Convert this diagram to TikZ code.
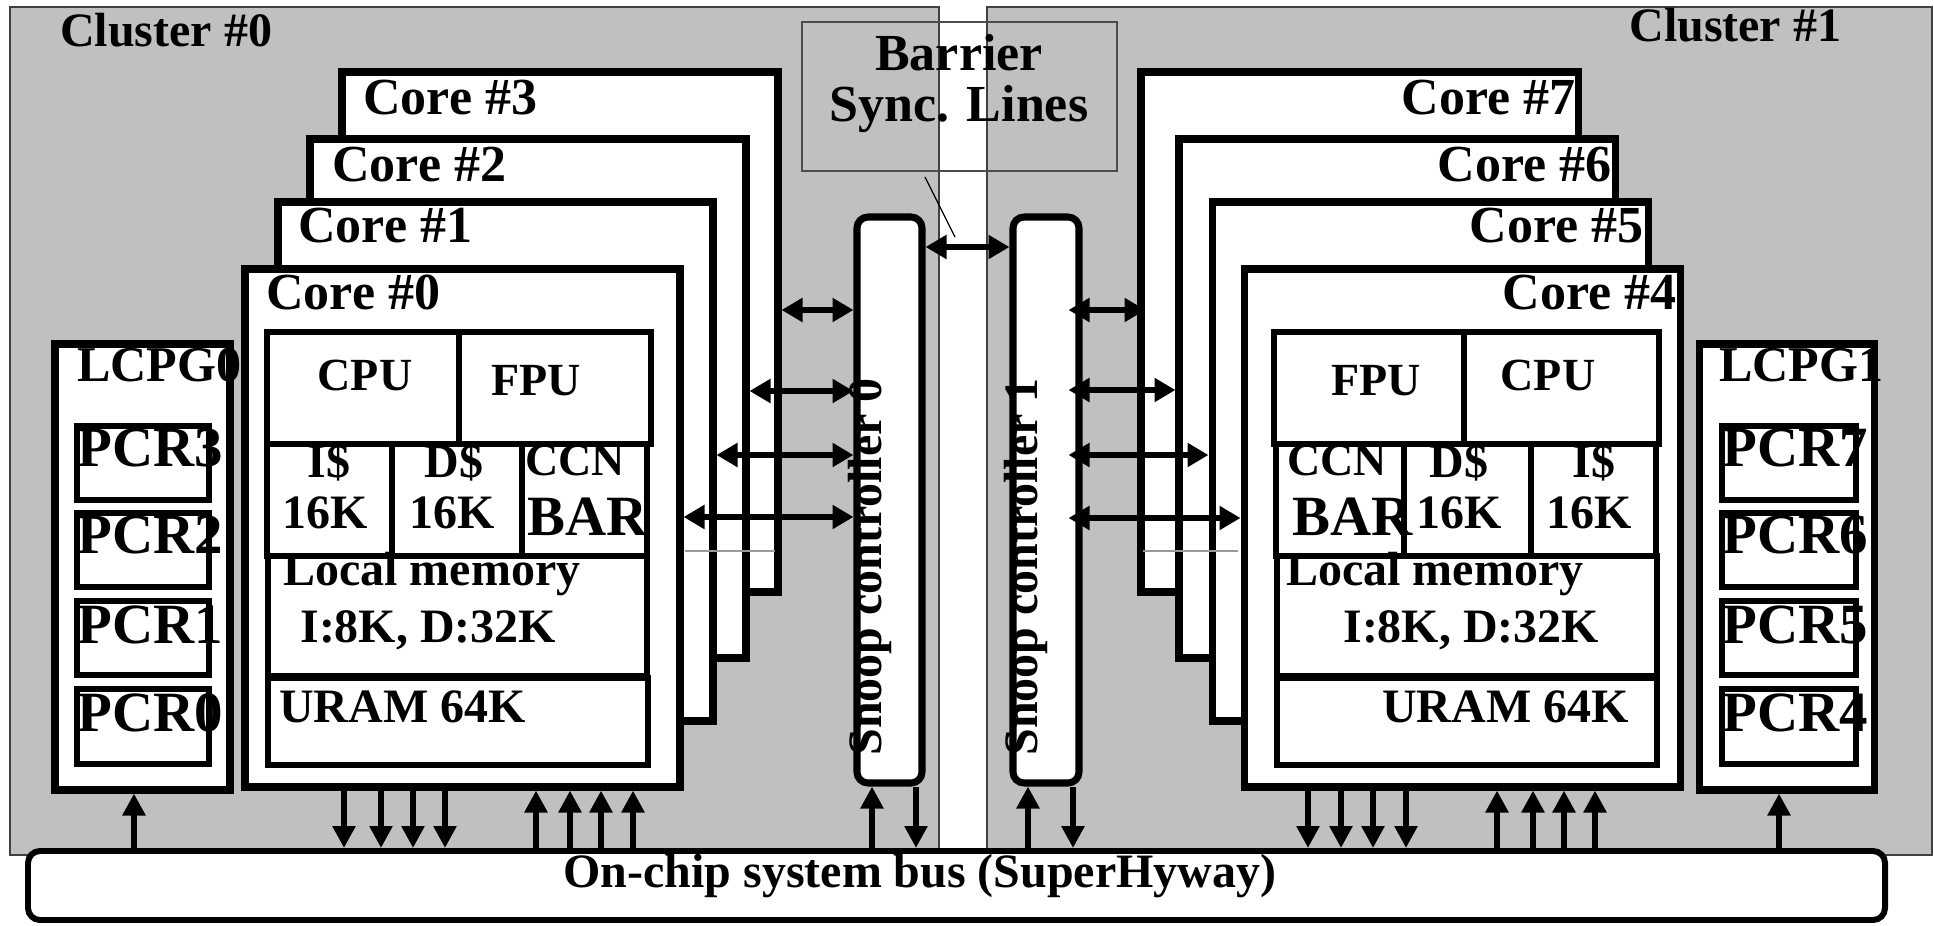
\documentclass[tikz,border=0pt]{standalone}
\usepackage{fontspec}
\setmainfont{Liberation Serif}
\usetikzlibrary{arrows.meta,fit}
\definecolor{clustergray}{RGB}{192,192,192}
\tikzset{
	clusterbox/.style={fill=clustergray, draw=black!75, line width=0.85pt},
	thinline/.style={draw=black!70, line width=0.85pt},
	corebox/.style={draw=black, fill=white, line width=4pt, inner sep=0pt},
	snoopbox/.style={draw=black, fill=white, line width=4pt, inner sep=0pt, rounded corners=0.22cm},
	busbox/.style={draw=black, fill=white, line width=3.4pt, inner sep=0pt, rounded corners=0.24cm},
	blockline/.style={line width=2.9pt},
	dblarrow/.style={line width=3.7pt, {Triangle[length=0.42cm, width=0.46cm]}-{Triangle[length=0.42cm, width=0.46cm]}},
	busarrow/.style={line width=3.7pt, -{Triangle[length=0.44cm, width=0.44cm]}},
	txt/.style={inner sep=0pt, font=\fontsize{27.3pt}{30pt}\selectfont\bfseries},
	txtunit/.style={inner sep=0pt, font=\fontsize{26.2pt}{29pt}\selectfont\bfseries},
	txtcore/.style={inner sep=0pt, font=\fontsize{29.6pt}{32pt}\selectfont\bfseries},
	txtlcpg/.style={inner sep=0pt, font=\fontsize{28.5pt}{31pt}\selectfont\bfseries},
	txtpcr/.style={inner sep=0pt, font=\fontsize{32.4pt}{35pt}\selectfont\bfseries}
}

\begin{document}
\begin{tikzpicture}[x=0.02cm, y=-0.02cm]
			%%%%% START %%%%%
			\useasboundingbox (0, 0) rectangle (1934, 926);
			
			% two clusters
			\draw[clusterbox] (10, 7) rectangle (939, 855);
			\draw[clusterbox] (987, 7) rectangle (1932, 855);
			\node[txt, anchor=base west] (cluster0label) at (60, 47) {Cluster \#0};
			\node[txt, anchor=base west] (cluster1label) at (1629, 42) {Cluster \#1};
			
			% barrier lines
			\draw[thinline] (802, 22) rectangle (1117, 171);
			\node[txtcore, anchor=base] (barrierA) at (959, 71) {Barrier};
			\node[txtcore, anchor=base] (barrierB) at (959, 122) {Sync. Lines};
			\draw[line width=0.7pt] (925, 177) -- (955, 237);
			
			% cores of cluster 0
			\node[corebox, fit={(342, 72) (778, 592)}] (core3) {};
			\node[txtcore, anchor=base west] (core3label) at (363, 114) {Core \#3};
			\node[corebox, fit={(310, 139) (746, 658)}] (core2) {};
			\node[txtcore, anchor=base west] (core2label) at (332, 181) {Core \#2};
			\node[corebox, fit={(278, 202) (713, 721)}] (core1) {};
			\node[txtcore, anchor=base west] (core1label) at (298, 242) {Core \#1};
			\node[corebox, fit={(245, 269) (680, 787)}] (core0) {};
			\node[txtcore, anchor=base west] (core0label) at (266, 309) {Core \#0};
			
			\draw[blockline] (267, 332) rectangle (651, 444);
			\draw[blockline] (459, 332) -- (459, 444);
			\draw[blockline] (267, 444) rectangle (647, 556);
			\draw[blockline] (392, 444) -- (392, 556);
			\draw[blockline] (522, 444) -- (522, 556);
			\draw[blockline] (268, 556) rectangle (647, 676);
			\draw[blockline] (268, 678) rectangle (648, 765);
			
			\node[txtunit, anchor=base] (cpu0) at (365, 390) {CPU};
			\node[txtunit, anchor=base] (fpu0) at (536, 395) {FPU};
			\node[txt, anchor=base] (icache0) at (329, 477) {I\$};
			\node[txt, anchor=base] (isize0) at (325, 528) {16K};
			\node[txt, anchor=base] (dcache0) at (454, 477) {D\$};
			\node[txt, anchor=base] (dsize0) at (452, 528) {16K};
			\node[txtunit, anchor=base] (ccn0) at (575, 475) {CCN};
			\node[txtpcr, anchor=base] (bar0) at (588, 535) {BAR};
			\node[txt, anchor=base west] (lmem0) at (283, 585) {Local memory};
			\node[txt, anchor=base west] (lsize0) at (300, 642) {I:8K, D:32K};
			\node[txt, anchor=base west] (uram0) at (279, 722) {URAM 64K};
			
			% cores of cluster 1
			\node[corebox, fit={(1141, 72) (1578, 592)}] (core7) {};
			\node[txtcore, anchor=base east] (core7label) at (1576, 114) {Core \#7};
			\node[corebox, fit={(1179, 139) (1615, 658)}] (core6) {};
			\node[txtcore, anchor=base east] (core6label) at (1612, 181) {Core \#6};
			\node[corebox, fit={(1212, 202) (1648, 721)}] (core5) {};
			\node[txtcore, anchor=base east] (core5label) at (1644, 242) {Core \#5};
			\node[corebox, fit={(1244, 269) (1680, 787)}] (core4) {};
			\node[txtcore, anchor=base east] (core4label) at (1677, 309) {Core \#4};
			
			\draw[blockline] (1274, 332) rectangle (1659, 444);
			\draw[blockline] (1464, 332) -- (1464, 444);
			\draw[blockline] (1276, 444) rectangle (1656, 556);
			\draw[blockline] (1404, 444) -- (1404, 556);
			\draw[blockline] (1531, 444) -- (1531, 556);
			\draw[blockline] (1277, 556) rectangle (1657, 676);
			\draw[blockline] (1277, 678) rectangle (1657, 765);
			
			\node[txtunit, anchor=base] (fpu4) at (1376, 395) {FPU};
			\node[txtunit, anchor=base] (cpu4) at (1548, 390) {CPU};
			\node[txtunit, anchor=base] (ccn4) at (1337, 475) {CCN};
			\node[txtpcr, anchor=base] (bar4) at (1353, 535) {BAR};
			\node[txt, anchor=base] (dcache4) at (1459, 477) {D\$};
			\node[txt, anchor=base] (dsize4) at (1459, 528) {16K};
			\node[txt, anchor=base] (icache4) at (1594, 477) {I\$};
			\node[txt, anchor=base] (isize4) at (1589, 528) {16K};
			\node[txt, anchor=base west] (lmem4) at (1286, 585) {Local memory};
			\node[txt, anchor=base west] (lsize4) at (1343, 642) {I:8K, D:32K};
			\node[txt, anchor=base west] (uram4) at (1382, 722) {URAM 64K};
			
			\draw[line width=0.6pt, color=black!40] (685, 551) -- (775, 551);
			\draw[line width=0.6pt, color=black!40] (1143, 551) -- (1238, 551);
			
			% power control
			\node[corebox, fit={(55, 344) (230, 790)}] (lcpg0) {};
			\node[txtlcpg, anchor=base west] (lcpg0label) at (77, 381) {LCPG0};
			\draw[blockline] (77, 426) rectangle (209, 500);
			\draw[blockline] (77, 513) rectangle (209, 587);
			\draw[blockline] (77, 601) rectangle (209, 675);
			\draw[blockline] (77, 689) rectangle (209, 764);
			\node[txtpcr, anchor=base west] (pcr3) at (77, 466) {PCR3};
			\node[txtpcr, anchor=base west] (pcr2) at (77, 553) {PCR2};
			\node[txtpcr, anchor=base west] (pcr1) at (77, 643) {PCR1};
			\node[txtpcr, anchor=base west] (pcr0) at (77, 731) {PCR0};
			
			\node[corebox, fit={(1699, 344) (1874, 790)}] (lcpg1) {};
			\node[txtlcpg, anchor=base west] (lcpg1label) at (1719, 381) {LCPG1};
			\draw[blockline] (1722, 426) rectangle (1856, 500);
			\draw[blockline] (1722, 513) rectangle (1856, 587);
			\draw[blockline] (1722, 601) rectangle (1856, 675);
			\draw[blockline] (1722, 689) rectangle (1856, 764);
			\node[txtpcr, anchor=base west] (pcr7) at (1722, 466) {PCR7};
			\node[txtpcr, anchor=base west] (pcr6) at (1722, 553) {PCR6};
			\node[txtpcr, anchor=base west] (pcr5) at (1722, 643) {PCR5};
			\node[txtpcr, anchor=base west] (pcr4) at (1722, 731) {PCR4};
			
			% snoop controllers
			\node[snoopbox, fit={(857, 217) (922, 783)}] (snoop0) {};
			\node[txt, rotate=90, anchor=base west] (snoop0label) at (881, 756) {Snoop controller 0};
			\node[snoopbox, fit={(1013, 217) (1079, 783)}] (snoop1) {};
			\node[txt, rotate=90, anchor=base west] (snoop1label) at (1037, 756) {Snoop controller 1};
			
			% system bus
			\node[busbox, fit={(28, 851) (1885, 920)}] (bus) {};
			\node[txt, anchor=base] (buslabel) at (920, 887) {On-chip system bus (SuperHyway)};
			
			% snoop links
			\draw[dblarrow] (snoop0.east |- 0,247) -- (snoop1.west |- 0,247);
			\draw[dblarrow] (core3.east |- 0,310) -- (snoop0.west |- 0,310);
			\draw[dblarrow] (core2.east |- 0,391) -- (snoop0.west |- 0,391);
			\draw[dblarrow] (core1.east |- 0,455) -- (snoop0.west |- 0,455);
			\draw[dblarrow] (core0.east |- 0,517) -- (snoop0.west |- 0,517);
			\draw[dblarrow] ([xshift=-0.28cm]snoop1.east |- 0,310) -- ([xshift=0.16cm]core7.west |- 0,310);
			\draw[dblarrow] ([xshift=-0.28cm]snoop1.east |- 0,390) -- (core6.west |- 0,390);
			\draw[dblarrow] ([xshift=-0.28cm]snoop1.east |- 0,455) -- (core5.west |- 0,455);
			\draw[dblarrow] ([xshift=-0.28cm]snoop1.east |- 0,518) -- (core4.west |- 0,518);
			
			% bus links
			\draw[busarrow] (bus.north -| 134,0) -- (lcpg0.south -| 134,0);
			\draw[busarrow] (core0.south -| 344,0) -- (bus.north -| 344,0);
			\draw[busarrow] (core0.south -| 381,0) -- (bus.north -| 381,0);
			\draw[busarrow] (core0.south -| 413,0) -- (bus.north -| 413,0);
			\draw[busarrow] (core0.south -| 445,0) -- (bus.north -| 445,0);
			\draw[busarrow] (bus.north -| 536,0) -- (core0.south -| 536,0);
			\draw[busarrow] (bus.north -| 570,0) -- (core0.south -| 570,0);
			\draw[busarrow] (bus.north -| 601,0) -- (core0.south -| 601,0);
			\draw[busarrow] (bus.north -| 633,0) -- (core0.south -| 633,0);
			\draw[busarrow] (bus.north -| 872,0) -- (snoop0.south -| 872,0);
			\draw[busarrow] (snoop0.south -| 916,0) -- (bus.north -| 916,0);
			\draw[busarrow] (bus.north -| 1028,0) -- (snoop1.south -| 1028,0);
			\draw[busarrow] (snoop1.south -| 1073,0) -- (bus.north -| 1073,0);
			\draw[busarrow] (core4.south -| 1308,0) -- (bus.north -| 1308,0);
			\draw[busarrow] (core4.south -| 1341,0) -- (bus.north -| 1341,0);
			\draw[busarrow] (core4.south -| 1373,0) -- (bus.north -| 1373,0);
			\draw[busarrow] (core4.south -| 1406,0) -- (bus.north -| 1406,0);
			\draw[busarrow] (bus.north -| 1497,0) -- (core4.south -| 1497,0);
			\draw[busarrow] (bus.north -| 1533,0) -- (core4.south -| 1533,0);
			\draw[busarrow] (bus.north -| 1564,0) -- (core4.south -| 1564,0);
			\draw[busarrow] (bus.north -| 1595,0) -- (core4.south -| 1595,0);
			\draw[busarrow] (bus.north -| 1779,0) -- (lcpg1.south -| 1779,0);
			
			%%%%% END %%%%%
\end{tikzpicture}
\end{document}
